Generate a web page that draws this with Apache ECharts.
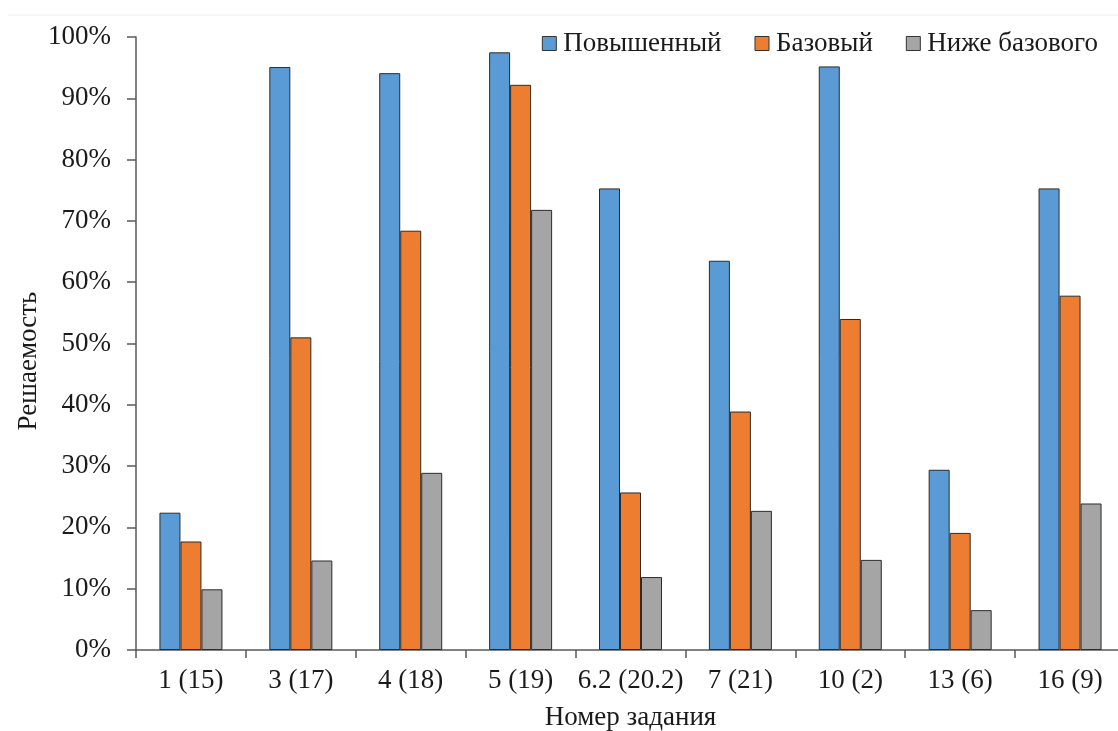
<!DOCTYPE html>
<html>
<head>
<meta charset="utf-8">
<script src="https://cdn.jsdelivr.net/npm/echarts@6/dist/echarts.min.js"></script>
<style>
  html, body { margin: 0; padding: 0; background: #fff; }
  #chart { width: 1118px; height: 731px; }
</style>
</head>
<body>
<div id="chart"></div>
<script>
const categories = ["1 (15)", "3 (17)", "4 (18)", "5 (19)", "6.2 (20.2)", "7 (21)", "10 (2)", "13 (6)", "16 (9)"];
const seriesNames = ["Повышенный", "Базовый", "Ниже базового"];
const advanced = [22.4, 95.1, 94.1, 97.5, 75.3, 63.5, 95.2, 29.4, 75.3];
const basic = [17.7, 51.0, 68.4, 92.2, 25.7, 38.9, 54.0, 19.1, 57.8];
const belowBasic = [9.9, 14.6, 28.9, 71.8, 11.9, 22.7, 14.7, 6.5, 23.9];
const colors = ["#5B9BD5", "#ED7D31", "#A5A5A5"];
const yTitle = "Решаемость";

const font = "Liberation Serif";
const chart = echarts.init(document.getElementById("chart"));

const makeBar = (name, values, color) => {
  return {
    name: name,
    type: "bar",
    data: values,
    barWidth: 21,
    barGap: "0%",
    itemStyle: {
      color: color,
      borderColor: "#2b2b2b",
      borderWidth: 1,
    },
  };
};

chart.setOption({
  animation: false,
  textStyle: { fontFamily: font, color: "#1a1a1a" },
  grid: { left: 136, right: -7, top: 37, bottom: 81, outerBoundsMode: "none", containLabel: false },
  graphic: [
    {
      type: "line",
      shape: { x1: 8, y1: 15, x2: 1118, y2: 15 },
      style: { stroke: "#eeeeee", lineWidth: 1 },
    },
    // y axis title, placed by hand (slightly below the plot middle as in the source)
    {
      type: "text",
      x: 29,
      y: 361,
      rotation: Math.PI / 2,
      style: {
        text: yTitle,
        font: "27px 'Liberation Serif'",
        fill: "#1a1a1a",
        align: "center",
        verticalAlign: "middle",
      },
    },
  ],
  legend: {
    data: seriesNames,
    right: 15,
    top: 25,
    itemWidth: 14,
    itemHeight: 14,
    itemGap: 33,
    icon: "rect",
    textStyle: { fontFamily: font, fontSize: 27, color: "#1a1a1a", padding: [0, 0, 0, 2] },
    itemStyle: { borderColor: "#333", borderWidth: 1 },
  },
  xAxis: {
    type: "category",
    data: categories,
    name: "Номер задания",
    nameLocation: "middle",
    nameGap: 54,
    nameTextStyle: { fontFamily: font, fontSize: 27, color: "#1a1a1a" },
    axisLine: { lineStyle: { color: "#595959", width: 1.5 } },
    axisTick: { show: true, length: 8, lineStyle: { color: "#595959", width: 1.5 } },
    axisLabel: { interval: 0, fontFamily: font, fontSize: 27, color: "#1a1a1a", margin: 17 },
  },
  yAxis: {
    type: "value",
    min: 0,
    max: 100,
    interval: 10,
    axisLine: { show: true, lineStyle: { color: "#595959", width: 1.5 } },
    axisTick: { show: true, length: 9, lineStyle: { color: "#595959", width: 1.5 } },
    splitLine: { show: false },
    axisLabel: {
      fontFamily: font,
      fontSize: 27,
      color: "#1a1a1a",
      margin: 25,
      formatter: "{value}%",
    },
  },
  series: [
    makeBar(seriesNames[0], advanced, colors[0]),
    makeBar(seriesNames[1], basic, colors[1]),
    makeBar(seriesNames[2], belowBasic, colors[2]),
  ],
});
</script>
</body>
</html>
